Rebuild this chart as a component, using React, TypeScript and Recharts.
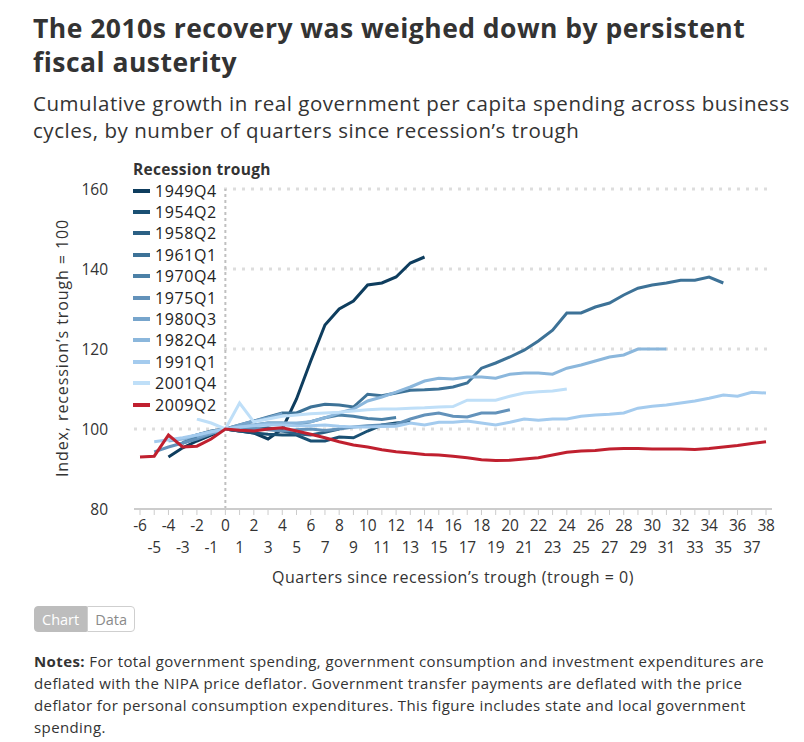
import React from 'react';
import { LineChart, Line, XAxis, YAxis, CartesianGrid, ReferenceLine } from 'recharts';

// quarters since the recession's trough (trough = 0)
const quarters = [
  -6, -5, -4, -3, -2, -1, 0, 1, 2, 3, 4, 5, 6, 7, 8, 9, 10, 11, 12, 13, 14, 15, 16,
  17, 18, 19, 20, 21, 22, 23, 24, 25, 26, 27, 28, 29, 30, 31, 32, 33, 34, 35, 36, 37, 38,
];
const yTicks = [80, 100, 120, 140, 160];

// each series starts at its own quarter; values are the index (trough = 100)
const r1949Q4 = [93, 95.3, 97, 98.5, 100, 99.5, 99, 97.5, 100, 107.5, 117, 126, 130, 132, 136, 136.5, 138, 141.5, 143];
const r1954Q2 = [96.5, 97.8, 99, 100, 99.5, 99, 98.7, 98.5, 98.5, 97, 97, 98, 97.8, 99.5, 101, 101.5, 101.8];
const r1958Q2 = [98.5, 99.3, 100, 99.5, 99.8, 100.3, 99.5, 98.8, 98.5, 99.2, 100];
const r1961Q1 = [
  97.5, 98.5, 99.5, 100, 101, 102, 103, 104, 104, 105.5, 106.2, 106, 105.5, 108.7, 108.3, 109, 109.7, 109.8,
  110, 110.5, 111.5, 115.2, 116.5, 118, 119.7, 122, 124.7, 129, 129, 130.5, 131.5, 133.5, 135.2, 136, 136.5,
  137.2, 137.2, 138, 136.5,
];
const r1970Q4 = [96.5, 98, 99, 100, 100.5, 101, 101.5, 101.5, 101.2, 101.8, 102.8, 103.5, 103.2, 102.6, 102.4, 102.9];
const r1975Q1 = [
  94.3, 95.5, 96.5, 97.5, 98.8, 100, 100.3, 100.2, 99.8, 99.5, 99.8, 100, 99.6, 100, 100.5, 100.8, 101, 101.2,
  102.5, 103.5, 104, 103.2, 103, 104, 104, 104.8,
];
const r1980Q3 = [98, 99, 100, 101, 102, 102.8, 103.8];
const r1982Q4 = [
  97, 97.5, 98.5, 99.3, 100, 100.5, 101, 101.5, 101.5, 101.5, 101.8, 102.8, 104, 105, 107, 108, 109.2, 110.5,
  112, 112.7, 112.5, 113, 113, 112.7, 113.7, 114, 114, 113.7, 115.2, 116, 117, 118, 118.5, 120, 120, 120,
];
const r1991Q1 = [
  96.8, 97.3, 97.8, 98.5, 99.3, 100, 100.5, 100.8, 101, 101, 100.8, 100.8, 101, 100.7, 100.5, 100.5, 100.6,
  100.7, 101.5, 101, 101.7, 101.7, 102, 101.5, 101, 101.7, 102.5, 102.2, 102.5, 102.5, 103.2, 103.5, 103.7,
  104, 105.2, 105.7, 106, 106.5, 107, 107.7, 108.5, 108.2, 109.2, 109,
];
const r2001Q4 = [
  102.5, 101.5, 100, 106.5, 101.8, 102.5, 103.2, 103.5, 103.8, 104, 104.2, 104.5, 104.8, 105, 105, 105.2,
  105.3, 105.5, 105.6, 107.2, 107.2, 107.2, 108.2, 109, 109.3, 109.5, 110,
];
const r2009Q2 = [
  93, 93.2, 98.5, 95.5, 95.7, 97.5, 100, 99.7, 99.5, 100, 100.3, 99.5, 98.7, 97.8, 96.8, 96, 95.5, 94.8, 94.3,
  94, 93.6, 93.5, 93.2, 92.8, 92.3, 92.1, 92.2, 92.5, 92.8, 93.5, 94.2, 94.5, 94.6, 95, 95.1, 95.1, 95, 95, 95,
  94.9, 95.1, 95.5, 95.9, 96.4, 96.8,
];

const series = [
  { name: '1949Q4', start: -4, values: r1949Q4, color: '#0e3d5e' },
  { name: '1954Q2', start: -3, values: r1954Q2, color: '#1a5073' },
  { name: '1958Q2', start: -2, values: r1958Q2, color: '#2b6084' },
  { name: '1961Q1', start: -3, values: r1961Q1, color: '#3d7297' },
  { name: '1970Q4', start: -3, values: r1970Q4, color: '#4c81a7' },
  { name: '1975Q1', start: -5, values: r1975Q1, color: '#6392ba' },
  { name: '1980Q3', start: -2, values: r1980Q3, color: '#77a5cc' },
  { name: '1982Q4', start: -4, values: r1982Q4, color: '#8bb7dc' },
  { name: '1991Q1', start: -5, values: r1991Q1, color: '#a4cbee' },
  { name: '2001Q4', start: -2, values: r2001Q4, color: '#bfdff8' },
  { name: '2009Q2', start: -6, values: r2009Q2, color: '#c0202f' },
];

const data = quarters.map((q) => {
  const row: Record<string, number | null> = { q };
  series.forEach((s) => {
    const i = q - s.start;
    row[s.name] = i >= 0 && i < s.values.length ? s.values[i] : null;
  });
  return row;
});

const FONT = "'Open Sans', Lato, sans-serif";
const TEXT = '#333333';

const QuarterTick = ({ x, y, payload }: any) => {
  const odd = Math.abs(payload.value) % 2 === 1;
  return (
    <text x={x} y={y + (odd ? 22 : 0)} dy="0.71em" textAnchor="middle" fill={TEXT} fontSize={15.5} fontFamily={FONT} letterSpacing={-0.3}>
      {payload.value}
    </text>
  );
};

export default function App() {
  return (
    <div style={{ position: 'absolute', left: 0, top: 0, width: 804, height: 742, background: '#fff', fontFamily: FONT, color: TEXT }}>
      <div style={{ position: 'absolute', left: 33, top: 11, width: 771, fontSize: 26.5, fontWeight: 700, lineHeight: '34px', letterSpacing: 0.47, whiteSpace: 'nowrap' }}>
        <div>The 2010s recovery was weighed down by persistent</div>
        <div>fiscal austerity</div>
      </div>
      <div style={{ position: 'absolute', left: 33, top: 90, width: 771, fontSize: 20.5, lineHeight: '27px', letterSpacing: 0.55, whiteSpace: 'nowrap' }}>
        <div>Cumulative growth in real government per capita spending across business</div>
        <div>cycles, by number of quarters since recession’s trough</div>
      </div>

      <div style={{ position: 'absolute', left: 0, top: 150 }}>
        <LineChart width={804} height={450} data={data} margin={{ top: 39, right: 32, bottom: 0, left: 0 }}>
          <CartesianGrid vertical={false} horizontalValues={[100, 120, 140, 160]} stroke="#dddddd" strokeWidth={3} strokeDasharray="3 6" />
          <XAxis
            dataKey="q"
            type="number"
            domain={[-6, 38]}
            ticks={quarters}
            interval={0}
            padding={{ left: 6, right: 6 }}
            height={91}
            tick={<QuarterTick />}
            tickSize={6}
            tickMargin={5}
            stroke="#cccccc"
            tickLine={{ stroke: '#cccccc' }}
            axisLine={{ stroke: '#cccccc', strokeWidth: 2 }}
          />
          <YAxis
            domain={[80, 160]}
            ticks={yTicks}
            width={134}
            axisLine={false}
            tickLine={false}
            tickSize={0}
            tickMargin={26}
            tick={{ fill: TEXT, fontSize: 15.5, fontFamily: FONT }}
          />
          <ReferenceLine x={0} stroke="#c0c0c0" strokeWidth={2} strokeDasharray="3 3" />
          {series.map((s) => (
            <Line
              key={s.name}
              dataKey={s.name}
              stroke={s.color}
              strokeWidth={3}
              dot={false}
              activeDot={false}
              type="linear"
              isAnimationActive={false}
            />
          ))}
        </LineChart>
      </div>

      <div style={{ position: 'absolute', left: 130, top: 158, width: 94, height: 260, background: '#fff' }}>
        <div style={{ fontSize: 15.5, fontWeight: 700, lineHeight: '22px', paddingLeft: 3, whiteSpace: 'nowrap', letterSpacing: 0.3 }}>Recession trough</div>
        {series.map((s) => (
          <div key={s.name} style={{ height: 21.4, display: 'flex', alignItems: 'center', fontSize: 16, letterSpacing: 0.6, color: '#222', whiteSpace: 'nowrap' }}>
            <span style={{ display: 'inline-block', width: 17, height: 4, background: s.color, marginLeft: 3, marginRight: 5, flexShrink: 0 }} />
            {s.name}
          </div>
        ))}
      </div>

      <div style={{ position: 'absolute', left: 62, top: 348, transform: 'translate(-50%, -50%) rotate(-90deg)', whiteSpace: 'nowrap', fontSize: 16, letterSpacing: 0.9 }}>
        Index, recession’s trough = 100
      </div>
      <div style={{ position: 'absolute', left: 453, top: 577, transform: 'translate(-50%, -50%)', whiteSpace: 'nowrap', fontSize: 16, letterSpacing: 0.5 }}>
        Quarters since recession’s trough (trough = 0)
      </div>

      <div style={{ position: 'absolute', left: 34, top: 606, display: 'flex', fontSize: 14.5, height: 26, lineHeight: '26px' }}>
        <div style={{ background: '#bdbdbd', color: '#fff', padding: '0 7px', borderRadius: '4px 0 0 4px', border: '1px solid #bdbdbd' }}>Chart</div>
        <div style={{ background: '#fff', color: '#8a8a8a', padding: '0 7px', borderRadius: '0 4px 4px 0', border: '1px solid #cfcfcf' }}>Data</div>
      </div>

      <div style={{ position: 'absolute', left: 34, top: 650, width: 770, fontSize: 15, lineHeight: '22px', letterSpacing: 0.4, whiteSpace: 'nowrap' }}>
        <b>Notes:</b> For total government spending, government consumption and investment expenditures are
        <br />
        deflated with the NIPA price deflator. Government transfer payments are deflated with the price
        <br />
        deflator for personal consumption expenditures. This figure includes state and local government
        <br />
        spending.
      </div>
    </div>
  );
}
